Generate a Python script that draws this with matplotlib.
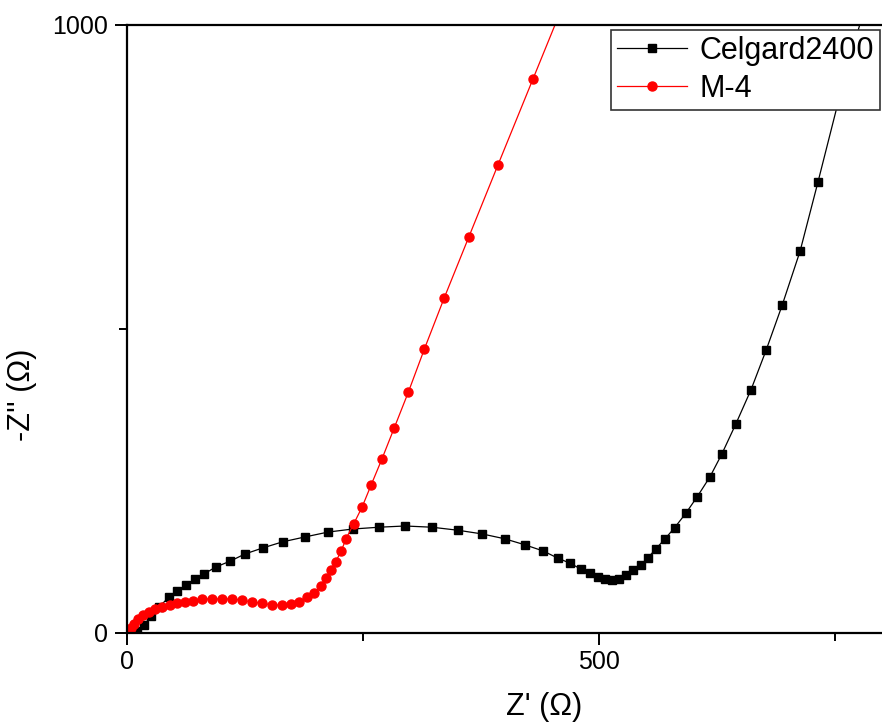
import numpy as np
import matplotlib.pyplot as plt
from matplotlib.ticker import MultipleLocator, FixedLocator

plt.rcParams['font.family'] = ['Liberation Sans', 'DejaVu Sans']

# Nyquist data, Z' and -Z'' in ohm
celgard_x = [10.6, 18, 25.5, 34, 44.5, 53, 62.5, 72, 81.5, 94, 109, 125, 144, 165,
             188.6, 213, 239, 267, 294.5, 323, 350.6, 376, 400, 421.6, 440.7, 456.6,
             469, 481, 490, 498.5, 506, 513.5, 521, 529, 536, 544.5, 552, 560, 570,
             580, 592, 604, 617.6, 630, 645, 661, 677, 694, 713, 732, 754, 779]
celgard_y = [3, 13, 28, 43, 59, 69, 79, 89, 97, 108.5, 118, 130, 140, 150,
             158, 166, 171, 174, 176, 174, 169, 163, 155, 145, 135, 123,
             115, 105, 99, 92, 89, 87, 89.5, 96, 103, 112.5, 124, 138, 155,
             173, 197, 224, 257, 294, 344, 400, 465, 539, 628, 742, 877, 1016]

m4_x = [0.5, 4, 7.4, 11.7, 17, 23, 29.7, 37, 45.5, 53, 61, 70, 79, 90, 100.6,
        111, 122, 132, 143, 154, 164, 174, 182, 191, 198, 205.5, 211, 216, 221,
        227, 232, 240, 249, 258.5, 270, 283, 298, 315, 336, 362, 393, 430, 467]
m4_y = [0, 8, 14.8, 23, 29.6, 34.5, 39.5, 43, 46, 49, 51, 53, 56, 56, 56,
        56, 54, 51, 49, 46, 46, 48, 51, 59, 66, 77, 90, 104, 117,
        135, 155, 179, 207, 243, 286, 337, 396, 467, 551, 651, 770, 911, 1052]

fig = plt.figure(figsize=(8.82, 7.24), dpi=100)
# axes run past the right edge of the canvas
ax = fig.add_axes([127 / 882, 91 / 724, 880 * 0.944 / 882, 608 / 724])

ax.plot(celgard_x, celgard_y, color='black', lw=0.9, marker='s', ms=6,
        label='Celgard2400')
ax.plot(m4_x, m4_y, color='#ff0000', lw=0.9, marker='o', ms=6.5,
        label='M-4')

ax.set_xlim(0, 880)
ax.set_ylim(0, 1000)

ax.xaxis.set_major_locator(MultipleLocator(500))
ax.xaxis.set_minor_locator(FixedLocator([250, 750]))
ax.yaxis.set_major_locator(MultipleLocator(1000))
ax.yaxis.set_minor_locator(FixedLocator([500]))

ax.tick_params(which='major', direction='out', length=8.5, width=1.4,
               labelsize=18, pad=4)
ax.tick_params(which='minor', direction='out', length=5.5, width=1.4)
ax.tick_params(axis='y', which='major', pad=5)
for s in ax.spines.values():
    s.set_linewidth(1.6)

ax.set_xlabel("Z' (\u03a9)", fontsize=22)
ax.set_ylabel("-Z'' (\u03a9)", fontsize=22)
ax.xaxis.set_label_coords(544 / 882, 2 / 724, transform=fig.transFigure)
ax.xaxis.label.set_va('bottom')
ax.yaxis.set_label_coords(7 / 882, 329 / 724, transform=fig.transFigure)
ax.yaxis.label.set_va('top')

leg = ax.legend(loc='upper right', bbox_to_anchor=(880 / 882, 1 - 30 / 724),
                bbox_transform=fig.transFigure, borderaxespad=0,
                fontsize=22, fancybox=False, framealpha=1, edgecolor='#333333',
                handlelength=2.3, handletextpad=0.4, borderpad=0.2,
                labelspacing=0.25)
leg.get_frame().set_linewidth(1.2)
leg.set_zorder(5)

fig.savefig('out.png', dpi=100)
